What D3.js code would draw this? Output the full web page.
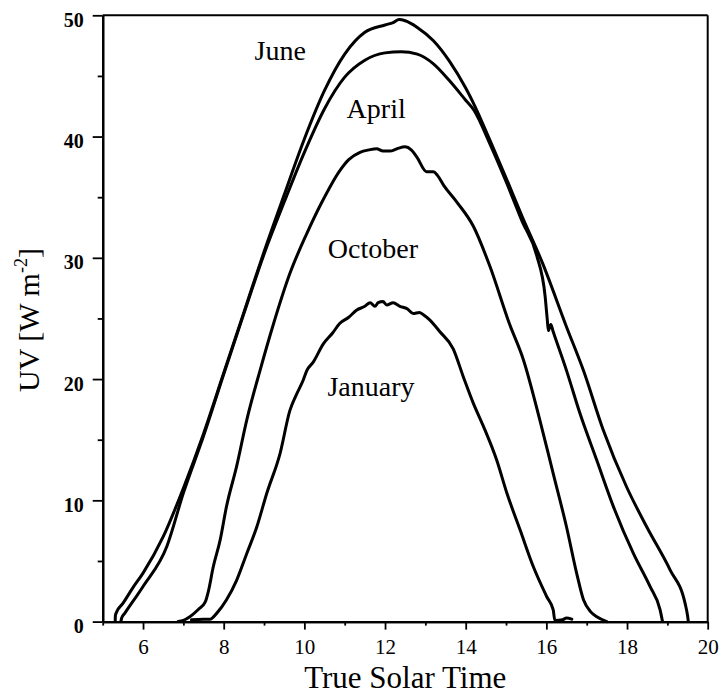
<!DOCTYPE html>
<html>
<head>
<meta charset="utf-8">
<script src="https://cdn.jsdelivr.net/npm/d3@7"></script>
<style>
  html, body { margin: 0; padding: 0; background: #fff; }
  svg { display: block; }
  text { font-family: "Liberation Serif", "Times New Roman", serif; fill: #000; }
</style>
</head>
<body>
<svg id="chart" width="723" height="695"></svg>
<script>
// ---------- data ----------
const xMajorTicks = [6, 8, 10, 12, 14, 16, 18, 20];
const xMinorTicks = [5, 7, 9, 11, 13, 15, 17, 19];
const yMajorTicks = [0, 10, 20, 30, 40, 50];
const yMinorTicks = [5, 15, 25, 35, 45];

const juneTime = [5.31, 5.315, 5.35, 5.5, 5.75, 6.0, 6.5, 7.0, 7.5, 8.0, 8.5, 9.0, 9.5, 10.0, 10.5, 11.0, 11.5, 12.0, 12.2, 12.35, 12.5, 12.8, 13.2, 13.6, 14.0, 14.2, 14.6, 15.0, 15.4, 15.9, 16.5, 16.92, 17.41, 17.99, 18.49, 19.07, 19.44, 19.5, 19.52];
const juneUV   = [0, 0.5, 0.82, 1.5, 2.8, 4.0, 7.0, 11.0, 15.5, 20.5, 25.5, 30.5, 35.2, 39.8, 43.8, 46.8, 48.6, 49.2, 49.4, 49.65, 49.55, 49.0, 47.9, 46.2, 44.0, 42.7, 39.7, 36.6, 33.4, 29.6, 24.3, 20.7, 15.8, 11.1, 7.8, 4.25, 1.5, 0.5, 0];

const aprilTime = [5.45, 5.47, 5.55, 6.0, 6.59, 7.0, 7.5, 8.0, 8.5, 9.0, 9.5, 10.0, 10.5, 11.0, 11.5, 12.0, 12.4, 12.8, 13.2, 13.6, 14.0, 14.2, 14.6, 15.0, 15.4, 15.76, 15.97, 16.02, 16.05, 16.11, 16.17, 16.5, 16.83, 17.25, 17.66, 18.16, 18.57, 18.82, 18.88];
const aprilUV   = [0, 0.3, 0.7, 2.9, 6.2, 10.6, 15.3, 20.4, 25.4, 30.3, 34.6, 38.7, 42.3, 44.9, 46.3, 46.9, 47.0, 46.8, 46.0, 44.6, 43.0, 42.2, 39.4, 36.3, 33.0, 30.2, 26.8, 25.0, 24.0, 24.5, 23.9, 20.7, 17.2, 13.3, 9.5, 5.6, 2.9, 0.96, 0];

const octoberTime = [6.87, 7.0, 7.16, 7.37, 7.54, 7.62, 7.74, 7.91, 8.07, 8.32, 8.57, 8.9, 9.23, 9.64, 10.06, 10.42, 10.88, 11.1, 11.38, 11.6, 11.79, 11.95, 12.12, 12.3, 12.5, 12.65, 12.79, 13.03, 13.2, 13.3, 13.45, 13.78, 14.19, 14.6, 15.08, 15.43, 15.84, 16.17, 16.5, 16.75, 16.92, 17.1, 17.25, 17.5];
const octoberUV   = [0, 0.1, 0.4, 1.0, 1.6, 2.5, 4.5, 6.7, 9.5, 12.8, 16.6, 20.7, 24.5, 28.7, 32.0, 34.5, 37.2, 38.1, 38.7, 38.9, 39.0, 38.8, 38.8, 39.0, 39.15, 38.9, 38.3, 37.1, 37.1, 36.8, 36.0, 34.6, 32.6, 29.3, 24.6, 21.6, 16.6, 12.2, 7.8, 4.0, 1.8, 0.8, 0.4, 0];

const januaryTime = [7.2, 7.5, 7.66, 7.83, 8.07, 8.32, 8.57, 8.82, 9.07, 9.4, 9.64, 9.8, 9.97, 10.06, 10.22, 10.47, 10.7, 10.88, 11.1, 11.3, 11.5, 11.63, 11.75, 11.83, 11.95, 12.04, 12.2, 12.37, 12.55, 12.7, 12.85, 12.95, 13.1, 13.36, 13.69, 13.94, 14.19, 14.44, 14.77, 15.02, 15.35, 15.68, 16.01, 16.17, 16.21, 16.4, 16.5, 16.63];
const januaryUV   = [0.15, 0.2, 0.2, 0.7, 1.8, 3.4, 5.6, 7.8, 10.6, 13.9, 17.4, 18.7, 19.9, 20.7, 21.4, 22.9, 23.8, 24.6, 25.1, 25.7, 26.0, 26.3, 26.0, 26.3, 26.4, 26.1, 26.3, 26.0, 25.8, 25.4, 25.5, 25.3, 24.9, 23.9, 22.5, 20.2, 18.0, 16.1, 13.3, 10.6, 7.55, 4.5, 2.05, 0.96, 0.1, 0.15, 0.3, 0.2];

const seriesNames = ["June", "April", "October", "January"];
const labelTime = [9.4, 11.78, 11.7, 11.65];
const labelUV   = [46.3, 41.5, 30.0, 18.6];

// ---------- layout ----------
const svg = d3.select("#chart");
const x = d3.scaleLinear().domain([5, 20]).range([102.7, 707.7]);
const y = d3.scaleLinear().domain([0, 50]).range([621.6, 15.3]);

const series = [
  {name: "June", t: juneTime, v: juneUV},
  {name: "April", t: aprilTime, v: aprilUV},
  {name: "October", t: octoberTime, v: octoberUV},
  {name: "January", t: januaryTime, v: januaryUV}
];

// frame (top & right)
svg.append("line").attr("x1", x(5)).attr("x2", x(20)).attr("y1", y(50)).attr("y2", y(50))
  .attr("stroke", "#000").attr("stroke-width", 2);
svg.append("line").attr("x1", x(20)).attr("x2", x(20)).attr("y1", y(50)).attr("y2", y(0))
  .attr("stroke", "#000").attr("stroke-width", 2);

// axes
function styleAxis(g) {
  g.select(".domain").attr("stroke", "#000").attr("stroke-width", 2.2);
  g.selectAll(".tick line").attr("stroke", "#000").attr("stroke-width", 1.8);
}
const xMinor = svg.append("g").attr("transform", `translate(0,${y(0)})`)
  .call(d3.axisBottom(x).tickValues(xMinorTicks).tickSize(4).tickSizeOuter(0).tickFormat(""));
styleAxis(xMinor);
const xAxis = svg.append("g").attr("transform", `translate(0,${y(0)})`)
  .call(d3.axisBottom(x).tickValues(xMajorTicks).tickSize(8).tickSizeOuter(0).tickPadding(9));
styleAxis(xAxis);
xAxis.selectAll(".tick text").attr("font-size", 21).attr("font-family", "Liberation Serif").attr("dy", "0.71em");

const yMinor = svg.append("g").attr("transform", `translate(${x(5)},0)`)
  .call(d3.axisLeft(y).tickValues(yMinorTicks).tickSize(5).tickSizeOuter(0).tickFormat(""));
styleAxis(yMinor);
const yAxis = svg.append("g").attr("transform", `translate(${x(5)},0)`)
  .call(d3.axisLeft(y).tickValues(yMajorTicks).tickSize(10).tickSizeOuter(0).tickPadding(9));
styleAxis(yAxis);
yAxis.selectAll(".tick text").attr("font-size", 20).attr("font-weight", "bold")
  .attr("font-family", "Liberation Serif").attr("dy", "0.55em").attr("x", -19);

// lines
const line = d3.line().x(d => x(d[0])).y(d => y(d[1])).curve(d3.curveMonotoneX);
svg.append("g").selectAll("path").data(series).join("path")
  .attr("d", s => line(s.t.map((t, i) => [t, s.v[i]])))
  .attr("fill", "none").attr("stroke", "#000").attr("stroke-width", 3)
  .attr("stroke-linejoin", "round").attr("stroke-linecap", "round");

// series labels
svg.append("g").selectAll("text").data(seriesNames).join("text")
  .attr("x", (d, i) => x(labelTime[i])).attr("y", (d, i) => y(labelUV[i]))
  .attr("text-anchor", "middle").attr("font-size", 28).text(d => d);

// axis titles
svg.append("text").attr("x", (x(5) + x(20)) / 2).attr("y", 688).attr("text-anchor", "middle")
  .attr("font-size", 31).text("True Solar Time");

const yt = svg.append("text").attr("transform", `translate(39,320) rotate(-90)`)
  .attr("text-anchor", "middle").attr("font-size", 30);
yt.append("tspan").text("UV  [W m");
yt.append("tspan").attr("font-size", 18).attr("dy", -12).text("-2");
yt.append("tspan").attr("dy", 12).text("]");
</script>
</body>
</html>
